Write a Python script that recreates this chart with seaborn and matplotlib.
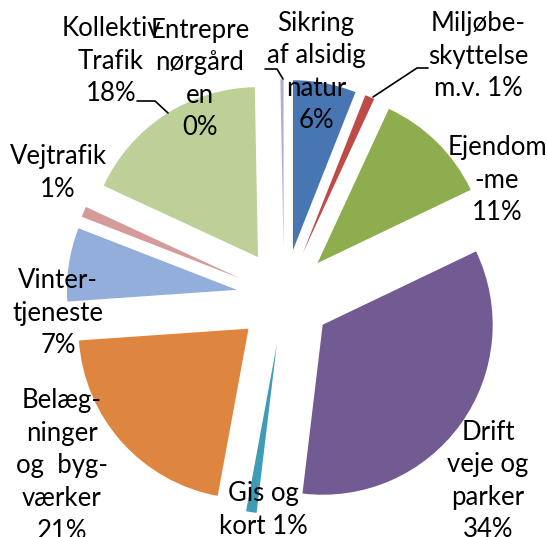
import matplotlib
matplotlib.use("Agg")
import matplotlib.pyplot as plt
import seaborn as sns

# Budget shares (%) clockwise from 12 o'clock
categories = ["Sikring\naf alsidig\nnatur", "Miljøbe-\nskyttelse\nm.v.", "Ejendom\n-me",
              "Drift\nveje og\nparker", "Gis og\nkort", "Belæg-\nninger\nog  byg-\nværker",
              "Vinter-\ntjeneste", "Vejtrafik", "Kollektiv\nTrafik", "Entrepre\nnørgård\nen"]
shares = [6.0, 0.9, 11.0, 34.0, 1.0, 21.0, 7.0, 1.0, 17.8, 0.3]
colors = ["#4776B2", "#BE4B48", "#8EAD4F", "#725A92", "#3E9CB6", "#DE863F",
          "#93AEDA", "#D59B9A", "#BCD098", "#B8A9D2"]
pct_sep = ["\n", " ", "\n", "\n", " ", "\n", "\n", "\n", "\n", "\n"]  # how the % sits

sns.set_theme(style="white")
plt.rcParams["font.family"] = ["Lato", "DejaVu Sans"]

W, H = 547, 537
R = 170.0
CX, CY = 284, 297


def px(x, y):
    return (x - CX) / R, (CY - y) / R


fig = plt.figure(figsize=(W / 100, H / 100), dpi=100)
ax = fig.add_axes([0, 0, 1, 1])
ax.pie(shares, colors=colors, startangle=90, counterclock=False,
       explode=[0.28] * len(shares), radius=1.0,
       wedgeprops=dict(linewidth=0))

# label centres in pixels (layout only)
label_pos = [(316, 72), (478, 56), (497, 180), (488, 481), (263, 510),
             (62, 466), (58, 313), (58, 173), (111, 61), (200, 79)]
for name, val, sep, (lx, ly) in zip(categories, shares, pct_sep, label_pos):
    x, y = px(lx, ly)
    ax.text(x, y, f"{name}{sep}{round(val)}%", ha="center", va="center",
            fontsize=18.5, linespacing=1.38, color="black")

# leader lines
leaders = [
    [(373, 97), (417, 68), (428, 68)],
    [(168, 113), (155, 101), (137, 101)],
    [(283, 79), (277, 69), (265, 69)],
]
for pts in leaders:
    xs, ys = zip(*[px(a, b) for a, b in pts])
    ax.plot(xs, ys, color="black", lw=1.2)

ax.set_xlim(-CX / R, (W - CX) / R)
ax.set_ylim(-(H - CY) / R, CY / R)
ax.axis("off")
fig.savefig("out.png", dpi=100)
